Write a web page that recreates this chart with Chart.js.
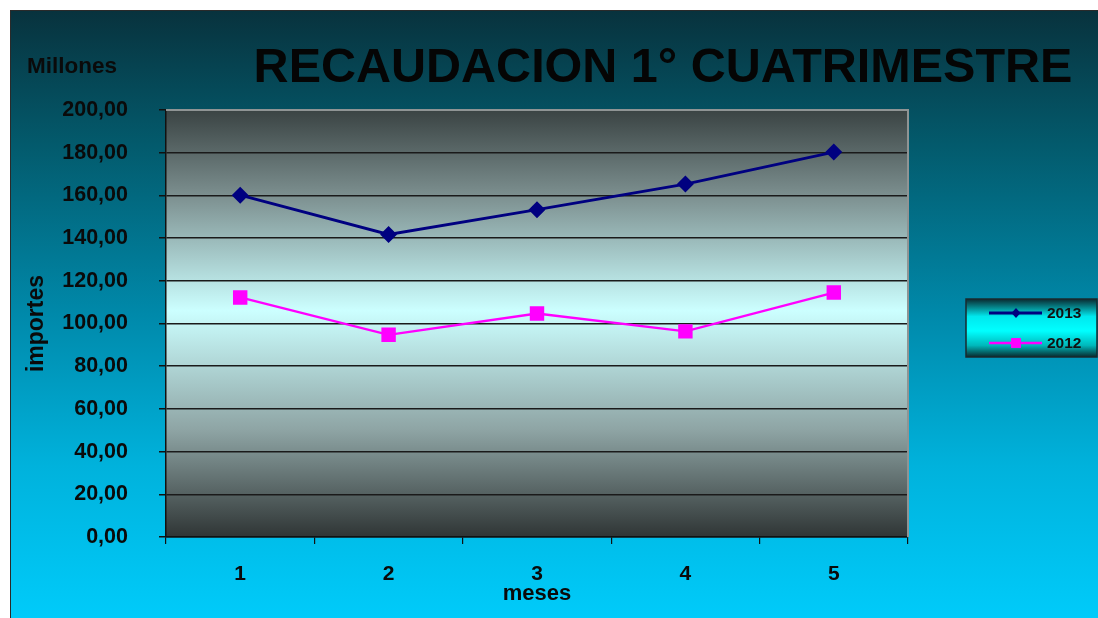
<!DOCTYPE html>
<html>
<head>
<meta charset="utf-8">
<script src="https://cdn.jsdelivr.net/npm/chart.js@4.4.1/dist/chart.umd.min.js"></script>
<style>
  html, body { margin: 0; padding: 0; background: #ffffff; width: 1098px; height: 618px; overflow: hidden; }
  #wrap {
    position: absolute; left: 10px; top: 10px; width: 1088px; height: 608px;
    background: linear-gradient(to bottom, #08323d 0%, #035a6c 22%, #0089aa 50%, #00b2dc 75%, #00cbfa 100%);
    box-shadow: inset 1px 1px 0 #2a2a2a;
  }
  canvas { position: absolute; left: 0; top: 0; }
</style>
</head>
<body>
<div id="wrap"><canvas id="c" width="1088" height="608"></canvas></div>
<script>
// ---- data ----
const titleText = 'RECAUDACION 1° CUATRIMESTRE';
const unitText = 'Millones';
const xTitle = 'meses';
const yTitle = 'importes';
const meses = ['1', '2', '3', '4', '5'];
const serie2013 = [160.1, 141.7, 153.3, 165.3, 180.3];
const serie2012 = [112.2, 94.7, 104.7, 96.3, 114.5];
const seriesLabels = ['2013', '2012'];
const yTickLabels = ['0,00', '20,00', '40,00', '60,00', '80,00', '100,00', '120,00', '140,00', '160,00', '180,00', '200,00'];

const FONT = "'Liberation Sans', Arial, sans-serif";

const plotBg = {
  id: 'plotBg',
  beforeDraw(chart) {
    const {ctx, chartArea: a} = chart;
    const g = ctx.createLinearGradient(0, a.top, 0, a.bottom);
    g.addColorStop(0, '#3a4343');
    g.addColorStop(0.2, '#7c8f8f');
    g.addColorStop(0.47, '#ccffff');
    g.addColorStop(0.75, '#8ea4a4');
    g.addColorStop(1, '#2f3535');
    ctx.save();
    ctx.fillStyle = g;
    ctx.fillRect(a.left, a.top, a.right - a.left, a.bottom - a.top);
    ctx.restore();
  },
  afterDatasetsDraw(chart) {
    const {ctx, chartArea: a} = chart;
    ctx.save();
    ctx.strokeStyle = '#8f9494';
    ctx.lineWidth = 2;
    ctx.beginPath();
    ctx.moveTo(a.left, a.top);
    ctx.lineTo(a.right, a.top);
    ctx.lineTo(a.right, a.bottom);
    ctx.stroke();
    ctx.restore();
  }
};

function drawMarker(ctx, style, x, y, r, color) {
  ctx.fillStyle = color;
  ctx.beginPath();
  if (style === 'rectRot') {
    ctx.moveTo(x, y - r); ctx.lineTo(x + r * 0.9, y); ctx.lineTo(x, y + r); ctx.lineTo(x - r * 0.9, y);
    ctx.closePath();
  } else {
    const s = r * Math.SQRT1_2;
    ctx.rect(x - s, y - s, 2 * s, 2 * s);
  }
  ctx.fill();
}

const texts = {
  id: 'texts',
  afterDraw(chart) {
    const ctx = chart.ctx;
    ctx.save();
    // title
    ctx.fillStyle = '#050505';
    ctx.font = 'bold 48.5px ' + FONT;
    ctx.textAlign = 'center';
    ctx.textBaseline = 'alphabetic';
    ctx.fillText(titleText, 653, 72);
    // unit
    ctx.font = 'bold 22.5px ' + FONT;
    ctx.textAlign = 'left';
    ctx.fillStyle = '#0a0a0a';
    ctx.fillText(unitText, 17, 63);

    // legend box
    const bx = 956, by = 289, bw = 131, bh = 58;
    const g = ctx.createLinearGradient(0, by, 0, by + bh);
    g.addColorStop(0, '#0a2a30');
    g.addColorStop(0.3, '#00e8ee');
    g.addColorStop(0.55, '#00ffff');
    g.addColorStop(0.8, '#00b8bb');
    g.addColorStop(1, '#082a2e');
    ctx.fillStyle = g;
    ctx.fillRect(bx, by, bw, bh);
    ctx.strokeStyle = '#1a2a2e';
    ctx.lineWidth = 1.5;
    ctx.strokeRect(bx, by, bw, bh);

    chart.data.datasets.forEach((ds, i) => {
      const y = 303 + i * 30;
      ctx.strokeStyle = ds.borderColor;
      ctx.lineWidth = ds.borderWidth;
      ctx.beginPath();
      ctx.moveTo(979, y);
      ctx.lineTo(1032, y);
      ctx.stroke();
      drawMarker(ctx, ds.pointStyle, 1006, y, ds.pointStyle === 'rectRot' ? 5 : 7, ds.pointBackgroundColor);
      ctx.fillStyle = '#111111';
      ctx.font = 'bold 15.5px ' + FONT;
      ctx.textAlign = 'left';
      ctx.textBaseline = 'middle';
      ctx.fillText(ds.label, 1037, y + 1);
    });
    ctx.restore();
  }
};

new Chart(document.getElementById('c'), {
  type: 'line',
  data: {
    labels: meses,
    datasets: [
      {
        label: seriesLabels[0],
        data: serie2013,
        borderColor: '#000080',
        backgroundColor: '#000080',
        pointBackgroundColor: '#000080',
        pointBorderColor: '#000080',
        borderWidth: 2.8,
        pointStyle: 'rectRot',
        pointRadius: 6.5,
        pointHoverRadius: 6.5,
        tension: 0,
        fill: false
      },
      {
        label: seriesLabels[1],
        data: serie2012,
        borderColor: '#ff00ff',
        backgroundColor: '#ff00ff',
        pointBackgroundColor: '#ff00ff',
        pointBorderColor: '#ff00ff',
        borderWidth: 2.4,
        pointStyle: 'rect',
        pointRadius: 8.5,
        pointHoverRadius: 8.5,
        tension: 0,
        fill: false
      }
    ]
  },
  options: {
    responsive: false,
    animation: false,
    events: [],
    layout: { padding: { left: 0, top: 100, right: 190, bottom: 0 } },
    plugins: {
      legend: { display: false },
      title: { display: false },
      tooltip: { enabled: false }
    },
    scales: {
      x: {
        type: 'category',
        offset: true,
        afterFit(scale) { scale.height = 81; },
        grid: {
          display: true,
          drawOnChartArea: false,
          drawTicks: true,
          tickLength: 7,
          offset: true,
          color: '#111111',
          lineWidth: 1.2
        },
        border: { display: true, color: '#111111', width: 1.5 },
        ticks: {
          color: '#0a0a0a',
          font: { family: FONT, size: 21, weight: 'bold' },
          padding: 18,
          maxRotation: 0
        },
        title: {
          display: true,
          text: xTitle,
          color: '#0a0a0a',
          font: { family: FONT, size: 22, weight: 'bold' },
          padding: { top: 0, bottom: 11 }
        }
      },
      y: {
        min: 0,
        max: 200,
        afterFit(scale) { scale.width = 156; },
        grid: {
          color: (c) => (c.tick && c.tick.value === 200) ? '#8f9494' : '#1a1a1a',
          lineWidth: 1.5,
          drawTicks: true,
          tickLength: 7,
          tickColor: '#111111'
        },
        border: { display: true, color: '#111111', width: 1.5 },
        ticks: {
          stepSize: 20,
          color: '#0a0a0a',
          font: { family: FONT, size: 21.5, weight: 'bold' },
          padding: 31,
          callback: (v, i) => yTickLabels[i]
        },
        title: {
          display: true,
          text: yTitle,
          color: '#0a0a0a',
          font: { family: FONT, size: 23, weight: 'bold' },
          padding: { top: 13, bottom: 0 }
        }
      }
    }
  },
  plugins: [plotBg, texts]
});
</script>
</body>
</html>
